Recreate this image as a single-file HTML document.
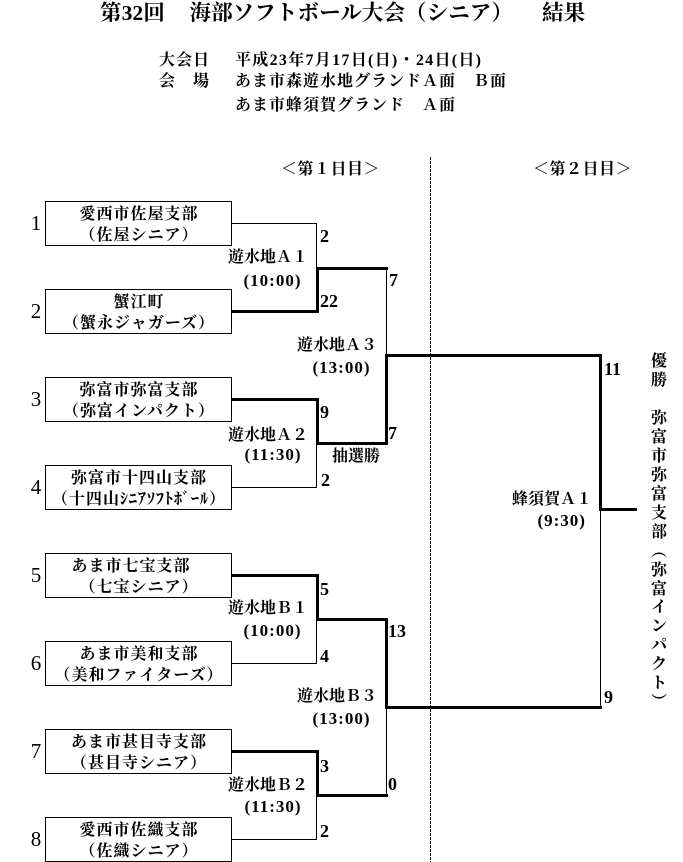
<!DOCTYPE html>
<html><head><meta charset="utf-8">
<style>
html,body{margin:0;padding:0;background:#fff;}
body{width:683px;height:862px;position:relative;overflow:hidden;color:#000;
font-family:"Liberation Serif","Noto Serif CJK SC",serif;}
.t{position:absolute;white-space:nowrap;line-height:1;font-weight:bold;}
.box{position:absolute;left:45px;width:187px;height:45px;border:1px solid #000;box-sizing:border-box;}
.l1,.l2{position:absolute;left:0;width:185px;text-align:center;white-space:nowrap;font-size:16px;line-height:16px;font-weight:bold;letter-spacing:1px;padding-left:1px;box-sizing:border-box;}
.l1{top:4.7px;}
.l2{top:26.2px;}
.num{position:absolute;left:26px;width:20px;text-align:center;font-size:21px;line-height:21px;font-weight:normal;}
.sc{position:absolute;font-size:18px;line-height:18px;font-weight:bold;white-space:nowrap;}
.ml{position:absolute;font-size:16px;line-height:16px;font-weight:bold;white-space:nowrap;}
.tm{position:absolute;width:80px;text-align:center;font-size:17px;line-height:17px;font-weight:bold;letter-spacing:1px;white-space:nowrap;}
.v{position:absolute;left:651px;width:16px;text-align:center;font-size:16px;font-weight:bold;}
</style></head><body>

<!-- title -->
<div class="t" style="left:100px;top:2.6px;font-size:21.6px;">第32回</div>
<div class="t" style="left:189.5px;top:2.6px;font-size:21.6px;">海部ソフトボール大会（シニア）</div>
<div class="t" style="left:542px;top:2.6px;font-size:21.6px;">結果</div>

<!-- sub header -->
<div class="t" style="left:159px;top:52.7px;font-size:16px;letter-spacing:1px;">大会日</div>
<div class="t" style="left:235px;top:52.7px;font-size:16px;letter-spacing:1.3px;">平成23年7月17日(日)・24日(日)</div>
<div class="t" style="left:159px;top:74.2px;font-size:16px;letter-spacing:1px;">会　場</div>
<div class="t" style="left:235px;top:74.2px;font-size:16px;letter-spacing:1px;">あま市森遊水地グランドＡ面　Ｂ面</div>
<div class="t" style="left:235px;top:97.7px;font-size:16px;letter-spacing:1px;">あま市蜂須賀グランド　Ａ面</div>

<div class="t" style="left:281px;top:162.2px;font-size:16px;letter-spacing:0.5px;">＜第１日目＞</div>
<div class="t" style="left:533px;top:162.2px;font-size:16px;letter-spacing:0.5px;">＜第２日目＞</div>

<!-- lines -->
<svg width="683" height="862" style="position:absolute;left:0;top:0;" shape-rendering="crispEdges">
<line x1="430.5" y1="157" x2="430.5" y2="862" stroke="#000" stroke-width="1" stroke-dasharray="3 1"/>
<g fill="#000">
<!-- thin -->
<rect x="232" y="223" width="85" height="1"/>
<rect x="316" y="223" width="1" height="45"/>
<rect x="316" y="444" width="1" height="44"/>
<rect x="232" y="487" width="85" height="1"/>
<rect x="386" y="267" width="1" height="88"/>
<rect x="316" y="620" width="1" height="44"/>
<rect x="232" y="663" width="85" height="1"/>
<rect x="316" y="796" width="1" height="44"/>
<rect x="232" y="839" width="85" height="1"/>
<rect x="386" y="708" width="1" height="88"/>
<rect x="600" y="510" width="1" height="198"/>
<!-- thick -->
<rect x="232" y="310" width="87" height="3"/>
<rect x="316" y="267" width="3" height="46"/>
<rect x="316" y="267" width="72" height="3"/>
<rect x="232" y="398" width="87" height="3"/>
<rect x="316" y="398" width="3" height="47"/>
<rect x="316" y="442" width="72" height="3"/>
<rect x="385" y="354" width="3" height="91"/>
<rect x="385" y="354" width="217" height="3"/>
<rect x="599" y="354" width="3" height="157"/>
<rect x="599" y="508" width="38" height="3"/>
<rect x="232" y="574" width="87" height="3"/>
<rect x="316" y="574" width="3" height="47"/>
<rect x="316" y="618" width="72" height="3"/>
<rect x="385" y="618" width="3" height="91"/>
<rect x="385" y="706" width="217" height="3"/>
<rect x="232" y="750" width="87" height="3"/>
<rect x="316" y="750" width="3" height="47"/>
<rect x="316" y="794" width="72" height="3"/>
</g>
</svg>

<!-- team boxes -->
<div class="box" style="top:201px;"><div class="l1">愛西市佐屋支部</div><div class="l2">（佐屋シニア）</div></div>
<div class="box" style="top:289px;"><div class="l1">蟹江町</div><div class="l2">（蟹永ジャガーズ）</div></div>
<div class="box" style="top:377px;"><div class="l1">弥富市弥富支部</div><div class="l2">（弥富インパクト）</div></div>
<div class="box" style="top:465px;"><div class="l1">弥富市十四山支部</div><div class="l2">（十四山ｼﾆｱｿﾌﾄﾎﾞｰﾙ）</div></div>
<div class="box" style="top:553px;"><div class="l1" style="padding-right:16px;">あま市七宝支部</div><div class="l2">（七宝シニア）</div></div>
<div class="box" style="top:641px;"><div class="l1">あま市美和支部</div><div class="l2">（美和ファイターズ）</div></div>
<div class="box" style="top:729px;"><div class="l1">あま市甚目寺支部</div><div class="l2">（甚目寺シニア）</div></div>
<div class="box" style="top:817px;"><div class="l1">愛西市佐織支部</div><div class="l2">（佐織シニア）</div></div>

<!-- seed numbers -->
<div class="num" style="top:213.3px;">1</div>
<div class="num" style="top:301.3px;">2</div>
<div class="num" style="top:389.3px;">3</div>
<div class="num" style="top:477.3px;">4</div>
<div class="num" style="top:565.3px;">5</div>
<div class="num" style="top:653.3px;">6</div>
<div class="num" style="top:741.3px;">7</div>
<div class="num" style="top:829.3px;">8</div>

<!-- scores -->
<div class="sc" style="left:320px;top:227px;">2</div>
<div class="sc" style="left:320px;top:292.4px;">22</div>
<div class="sc" style="left:389px;top:271.4px;">7</div>
<div class="sc" style="left:320px;top:403.4px;">9</div>
<div class="sc" style="left:388px;top:424px;">7</div>
<div class="sc" style="left:321px;top:471px;">2</div>
<div class="sc" style="left:320px;top:580px;">5</div>
<div class="sc" style="left:320px;top:647px;">4</div>
<div class="sc" style="left:388px;top:622px;">13</div>
<div class="sc" style="left:320px;top:757px;">3</div>
<div class="sc" style="left:388px;top:775px;">0</div>
<div class="sc" style="left:320px;top:822px;">2</div>
<div class="sc" style="left:604px;top:360px;">11</div>
<div class="sc" style="left:604px;top:688px;">9</div>

<!-- match labels -->
<div class="ml" style="left:228px;top:250.2px;">遊水地Ａ１</div>
<div class="tm" style="left:232.5px;top:272.4px;">(10:00)</div>
<div class="ml" style="left:297px;top:337.7px;">遊水地Ａ３</div>
<div class="tm" style="left:301.5px;top:359.4px;">(13:00)</div>
<div class="ml" style="left:228px;top:427.7px;">遊水地Ａ２</div>
<div class="tm" style="left:233px;top:446.4px;">(11:30)</div>
<div class="ml" style="left:332px;top:448.7px;">抽選勝</div>
<div class="ml" style="left:228px;top:600.7px;">遊水地Ｂ１</div>
<div class="tm" style="left:232.5px;top:622.4px;">(10:00)</div>
<div class="ml" style="left:297px;top:689.2px;">遊水地Ｂ３</div>
<div class="tm" style="left:301.5px;top:710.4px;">(13:00)</div>
<div class="ml" style="left:228px;top:777.7px;">遊水地Ｂ２</div>
<div class="tm" style="left:233px;top:798.4px;">(11:30)</div>
<div class="ml" style="left:512px;top:491.7px;">蜂須賀Ａ１</div>
<div class="tm" style="left:521.7px;top:511.9px;">(9:30)</div>

<!-- vertical winner text -->
<div class="v" style="top:351.7px;line-height:19.5px;">優<br>勝</div>
<div class="v" style="top:410.4px;line-height:18.9px;">弥<br>富<br>市<br>弥<br>富<br>支<br>部<br>︵<br>弥<br>富<br>イ<br>ン<br>パ<br>ク<br>ト<br>︶</div>

</body></html>
